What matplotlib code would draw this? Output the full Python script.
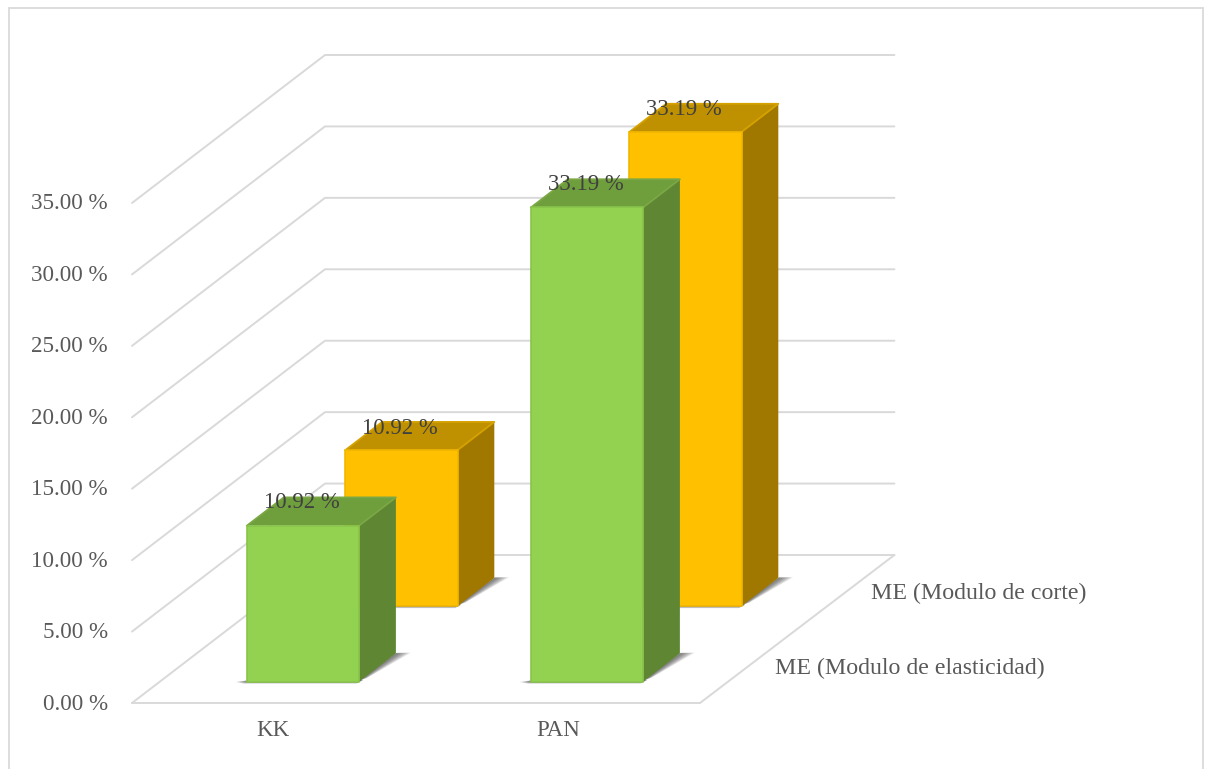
import matplotlib
matplotlib.use("Agg")
import matplotlib.pyplot as plt
from matplotlib.patches import Polygon, Rectangle

plt.rcParams['font.family'] = ['Liberation Serif', 'DejaVu Serif']

categories = ["KK", "PAN"]
series_names = ["ME (Modulo de elasticidad)", "ME (Modulo de corte)"]
elasticidad = [10.92, 33.19]
corte = [10.92, 33.19]
value_ticks = [0, 5, 10, 15, 20, 25, 30, 35]
tick_labels = ["0.00 %", "5.00 %", "10.00 %", "15.00 %", "20.00 %", "25.00 %", "30.00 %", "35.00 %"]

# oblique projection of the chart box: (category, value, depth) -> pixels
X0, Y0 = 132.0, 703.0
CAT_W = 284.0
PX_PER_VALUE = 71.43 / 5
DEPTH_DX, DEPTH_DY = 96.5, -74.0

BAR_W = 0.395
BAR_D = 0.38
FS = 17.2
FS_TICK = 16.6
FS_LABEL = 16.4


def project(c, v, d):
    return (X0 + c * CAT_W + d * DEPTH_DX, Y0 - v * PX_PER_VALUE + d * DEPTH_DY)


def face(ax, pts, color, z, edge=None, lw=0):
    ax.add_patch(Polygon(pts, closed=True, facecolor=color, edgecolor=edge or 'none',
                         linewidth=lw, zorder=z, joinstyle='round'))


def shadow(ax, c0, c1, d0, z):
    # soft contact shadow on the floor, built from stacked transparent layers
    d1 = d0 + BAR_D
    n = 12
    for i in range(n):
        g = 1 - i / n
        side = [project(c1 - 0.01, 0, d0 - 0.01), project(c1, 0, d1 + 0.01 * g),
                project(c1 + 0.05 * g, 0, d1 + 0.01 * g), project(c1 + 0.012 * g, 0, d0 + 0.05)]
        face(ax, side, (0.2, 0.2, 0.2, 0.075), z)
        front = [project(c0 - 0.04 * g, 0, d0 - 0.006), project(c0, 0, d0 - 0.03 * g),
                 project(c1, 0, d0 - 0.03 * g), project(c1 + 0.006, 0, d0 + 0.02),
                 project(c0, 0, d0 + 0.02)]
        face(ax, front, (0.2, 0.2, 0.2, 0.075), z)


def bar3d(ax, c, v, d0, colors, z):
    front, top, side, edge, top_edge = colors
    c0, c1 = c - BAR_W / 2, c + BAR_W / 2
    d1 = d0 + BAR_D
    shadow(ax, c0, c1, d0, z)
    face(ax, [project(c1, 0, d0), project(c1, 0, d1), project(c1, v, d1), project(c1, v, d0)],
         side, z + 0.1)
    face(ax, [project(c0, v, d0), project(c1, v, d0), project(c1, v, d1), project(c0, v, d1)],
         top, z + 0.1)
    face(ax, [project(c0, 0, d0), project(c1, 0, d0), project(c1, v, d0), project(c0, v, d0)],
         front, z + 0.2, edge=edge, lw=1.2)
    # bevel highlight along the back and right of the top face
    bx = [project(c0, v, d0), project(c0, v, d1), project(c1, v, d1), project(c1, v, d0)]
    ax.plot([p[0] for p in bx], [p[1] for p in bx], color=top_edge, lw=1.3, zorder=z + 0.15,
            solid_joinstyle='round')


fig = plt.figure(figsize=(12.09, 7.69), dpi=100)
ax = fig.add_axes([0, 0, 1, 1])
ax.set_xlim(0, 1209)
ax.set_ylim(769, 0)
ax.axis('off')

ax.add_patch(Rectangle((9, 8), 1194, 770, facecolor='white', edgecolor='#DDDDDD', linewidth=1.4, zorder=0))

grid_kw = dict(color='#D9D9D9', lw=1.4, zorder=1, solid_capstyle='round')
for v, lab in zip(value_ticks, tick_labels):
    p_front = project(0, v, 0)
    p_back = project(0, v, 2)
    p_right = project(2.005, v, 2)
    ax.plot([p_front[0], p_back[0], p_right[0]], [p_front[1], p_back[1], p_right[1]], **grid_kw)
    ax.text(108, p_front[1] + 1, lab, ha='right', va='center', fontsize=FS_TICK, color='#595959', zorder=5)

# floor edges
fl = [project(0, 0, 0), project(2, 0, 0), project(2.005, 0, 2)]
ax.plot([p[0] for p in fl], [p[1] for p in fl], **grid_kw)

GREEN = ('#92D250', '#6F9E3D', '#5F8632', '#88C44A', '#7BA845')
ORANGE = ('#FFC000', '#BF9000', '#A07800', '#F2B600', '#D6A200')
centers = [0.504, 1.504]

for c, v in zip(centers, corte):
    bar3d(ax, c, v, 1.31, ORANGE, 2)
for c, v in zip(centers, elasticidad):
    bar3d(ax, c, v, 0.29, GREEN, 3)

for c, v in zip(centers, corte):
    px, py = project(c, v, 1.31)
    ax.text(px - 2, py - 22, "%.2f %%" % v, ha='center', va='center', fontsize=FS_LABEL, color='#404040', zorder=6)
for c, v in zip(centers, elasticidad):
    px, py = project(c, v, 0.29)
    ax.text(px - 1, py - 23, "%.2f %%" % v, ha='center', va='center', fontsize=FS_LABEL, color='#404040', zorder=6)

for lab, xc in zip(categories, [273, 558]):
    ax.text(xc, 731, lab, ha='center', va='center', fontsize=FS_TICK, color='#595959', zorder=5)

ax.text(775, 668, series_names[0], ha='left', va='center', fontsize=FS, color='#595959', zorder=5)
ax.text(871, 593, series_names[1], ha='left', va='center', fontsize=FS, color='#595959', zorder=5)

fig.savefig("out.png", dpi=100)
